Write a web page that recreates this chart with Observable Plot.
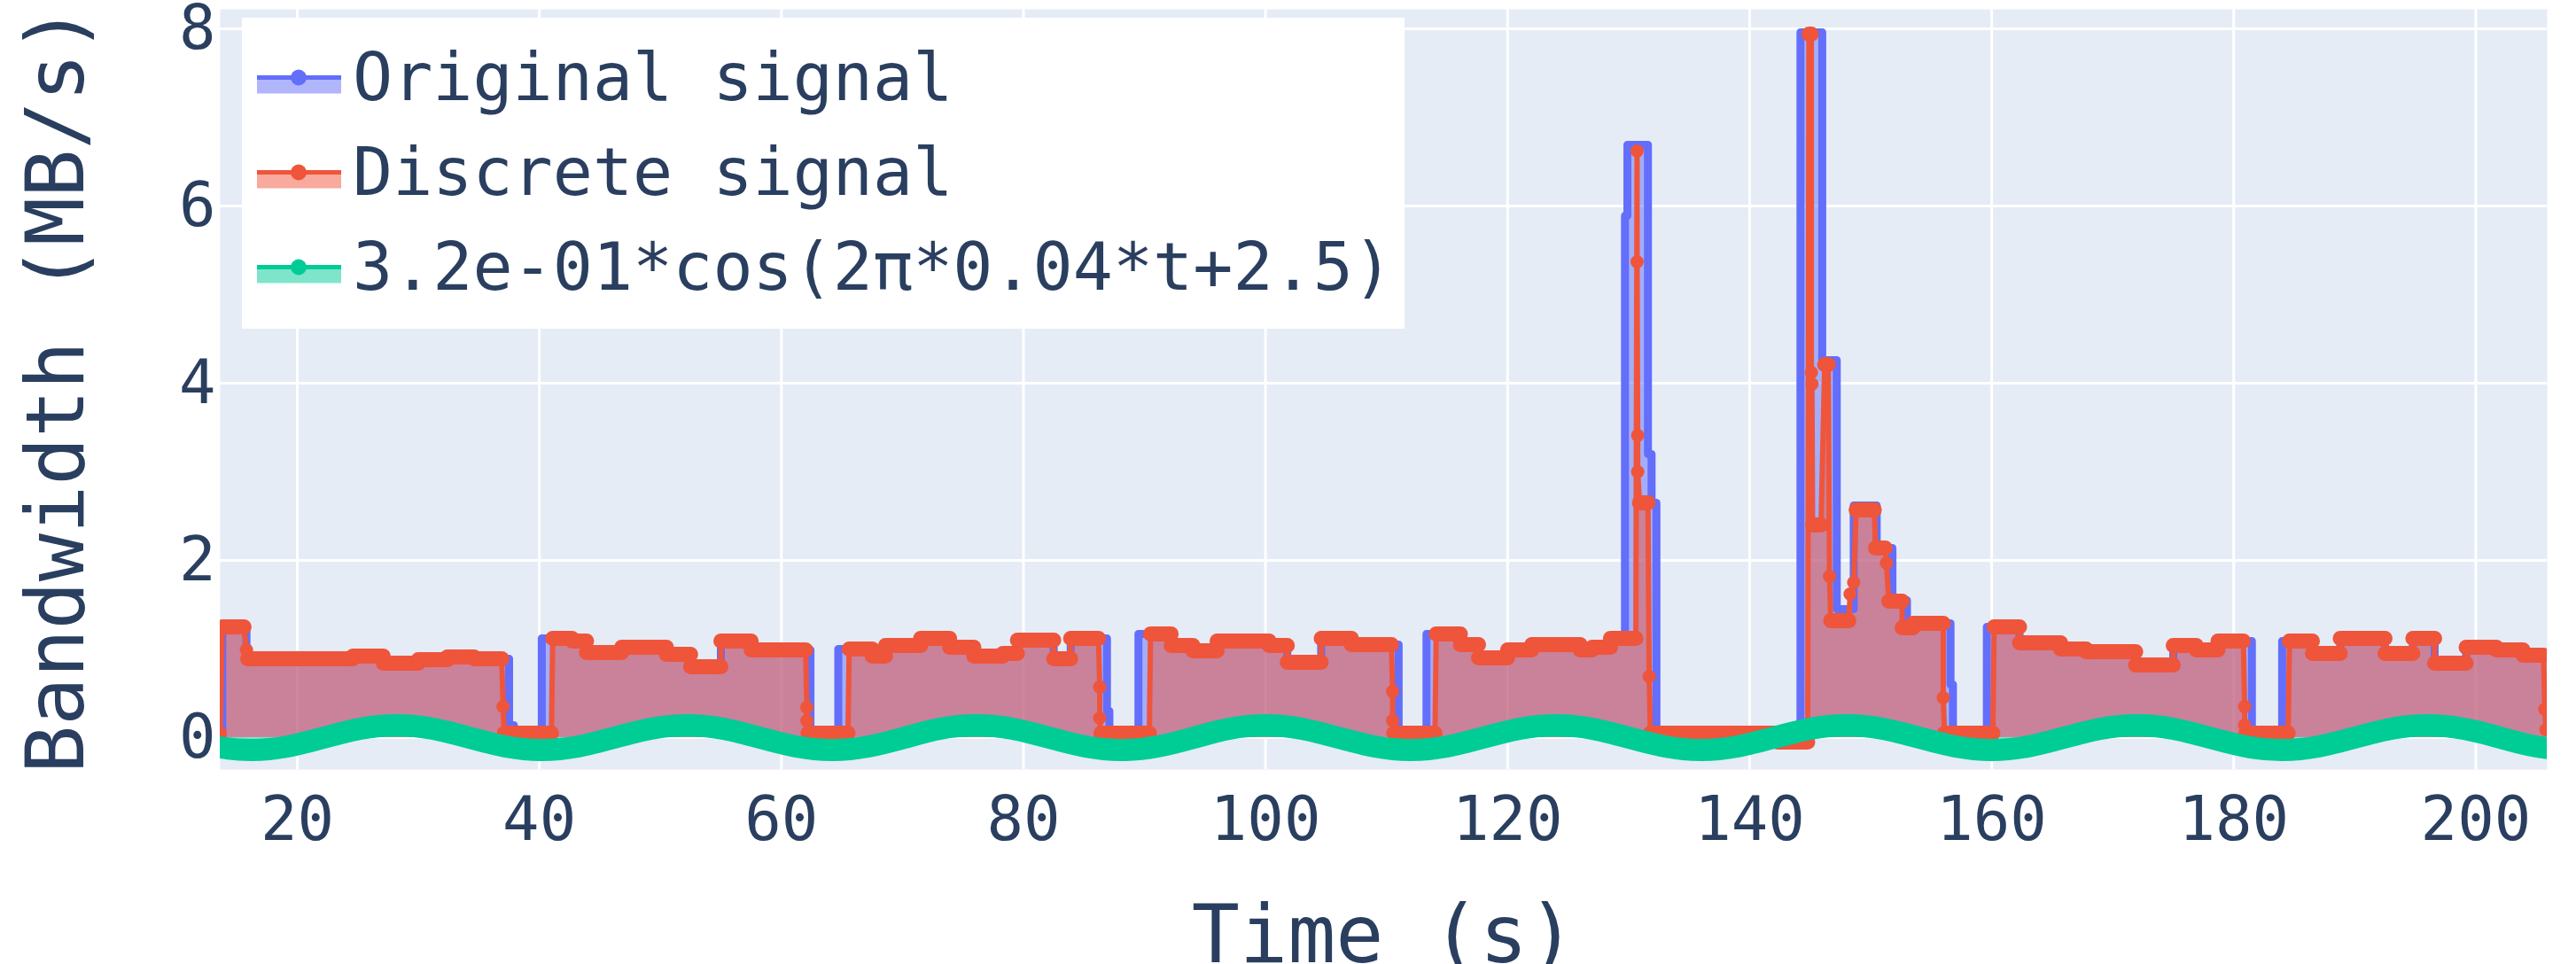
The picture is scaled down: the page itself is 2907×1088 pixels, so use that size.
<!DOCTYPE html>
<html><head><meta charset="utf-8">
<script src="https://cdn.jsdelivr.net/npm/d3@7"></script>
<script src="https://cdn.jsdelivr.net/npm/@observablehq/plot@0.6"></script>
<style>
body{margin:0;background:#fff;}
#wrap{position:relative;width:2907px;height:1088px;font-family:"DejaVu Sans Mono",monospace;color:#2a3f5f;}
#legend{position:absolute;left:273px;top:20px;width:1312px;height:351px;background:#fff;box-sizing:border-box;padding:14px 0 0 17px;}
.row{display:flex;align-items:center;height:107px;}
.row span{font-size:75px;margin-left:13px;white-space:nowrap;line-height:1;}
.row svg{display:block;}
</style></head><body><div id="wrap"></div>
<script>
// ---- data ----
const origT = [13.63,13.8,15.8,24.6,27.1,30.0,32.4,34.6,37.5,37.9,40.2,42.7,43.9,46.8,50.5,52.5,55.0,57.5,62.4,64.7,67.5,68.6,71.5,73.9,75.9,78.3,79.5,82.5,83.9,86.9,87.1,89.5,92.2,94.0,96.0,100.3,101.8,104.6,107.1,111.0,113.3,116.1,117.6,120.0,122.0,126.0,127.0,128.5,129.7,129.9,131.6,131.9,132.3,144.2,146.0,147.2,148.6,150.5,151.8,153.0,156.6,156.8,159.6,162.3,165.7,167.8,171.9,175.0,176.9,178.7,181.5,184.0,186.5,188.8,192.5,194.8,196.6,199.2,201.7,203.9,205.95];
const origV = [0,1.25,0.89,0.92,0.84,0.88,0.91,0.89,0.14,0,1.12,1.09,0.96,1.02,0.94,0.80,1.09,0.99,0,1.00,0.92,1.04,1.12,1.02,0.92,0.95,1.10,0.89,1.12,0.30,0,1.17,1.04,0.98,1.09,1.04,0.85,1.12,1.05,0,1.17,1.05,0.90,0.99,1.05,0.99,1.02,1.12,5.89,6.69,3.20,2.65,0,7.96,4.26,1.45,2.62,2.14,1.55,1.29,0.60,0,1.25,1.07,1.00,0.97,0.82,1.04,0.99,1.09,0,1.09,0.95,1.12,0.95,1.12,0.84,1.02,0.99,0.93,0.93];

const discT = [13.63,13.8,15.6,15.8,15.9,24.6,24.6,27.1,27.1,30.0,30.0,32.4,32.4,34.6,34.6,36.9,37.0,37.1,41.0,41.1,42.7,42.7,43.9,43.9,46.8,46.8,50.5,50.5,52.5,52.5,55.0,55.0,57.5,57.5,62.0,62.1,62.1,62.2,65.5,65.6,67.5,67.5,68.6,68.6,71.5,71.5,73.9,73.9,75.9,75.9,78.3,78.3,79.5,79.5,82.5,82.5,83.9,83.9,86.2,86.3,86.3,86.4,90.4,90.5,92.2,92.2,94.0,94.0,96.0,96.0,100.3,100.3,101.8,101.8,104.6,104.6,107.1,107.1,110.4,110.5,110.5,110.6,114.0,114.1,116.1,116.1,117.6,117.6,120.0,120.0,122.0,122.0,126.0,126.0,127.0,127.0,128.5,128.5,130.6,130.7,130.7,130.75,130.75,130.9,131.6,131.7,131.8,142.2,142.3,144.8,144.9,145.1,145.1,145.15,145.2,145.9,146.2,146.5,146.6,146.7,148.2,148.3,148.6,148.8,150.3,150.4,151.2,151.3,151.5,152.6,152.6,153.5,153.5,156.0,156.0,156.1,160.1,160.2,162.3,162.3,165.7,165.7,167.8,167.8,171.9,171.9,175.0,175.0,176.9,176.9,178.7,178.7,180.8,180.9,180.9,181.0,184.5,184.6,186.5,186.5,188.8,188.8,192.5,192.5,194.8,194.8,196.6,196.6,199.2,199.2,201.7,201.7,203.9,203.9,205.6,205.7,205.8];
const discV = [0.05,1.25,1.25,0.99,0.89,0.89,0.92,0.92,0.84,0.84,0.88,0.88,0.91,0.91,0.89,0.89,0.35,0.05,0.05,1.12,1.12,1.09,1.09,0.96,0.96,1.02,1.02,0.94,0.94,0.80,0.80,1.09,1.09,0.99,0.99,0.34,0.19,0.05,0.05,1.00,1.00,0.92,0.92,1.04,1.04,1.12,1.12,1.02,1.02,0.92,0.92,0.95,0.95,1.10,1.10,0.89,0.89,1.12,1.12,0.57,0.22,0.05,0.05,1.17,1.17,1.04,1.04,0.98,0.98,1.09,1.09,1.04,1.04,0.85,0.85,1.12,1.12,1.05,1.05,0.52,0.19,0.05,0.05,1.17,1.17,1.05,1.05,0.90,0.90,0.99,0.99,1.05,1.05,0.99,0.99,1.02,1.02,1.12,1.12,6.62,5.37,3.41,3.00,2.65,2.65,0.69,0.05,0.05,-0.05,-0.05,7.94,7.94,4.12,3.99,2.40,2.40,4.21,4.21,1.82,1.32,1.32,1.62,1.75,2.57,2.57,2.14,2.14,1.97,1.54,1.54,1.24,1.24,1.29,1.29,0.45,0.05,0.05,1.25,1.25,1.07,1.07,1.00,1.00,0.97,0.97,0.82,0.82,1.04,1.04,0.99,0.99,1.09,1.09,0.35,0.14,0.05,0.05,1.09,1.09,0.95,0.95,1.12,1.12,0.95,0.95,1.12,1.12,0.84,0.84,1.02,1.02,0.99,0.99,0.93,0.93,0.32,0.09];

const cosT = [10.2,13.2,16.2,19.2,22.2,25.2,28.2,31.2,34.2,37.2,40.2,43.2,46.2,49.2,52.2,55.2,58.2,61.2,64.2,67.2,70.2,73.1,76.1,79.1,82.1,85.1,88.1,91.1,94.1,97.0,100.0,103.0,106.0,109.0,112.0,115.0,118.0,121.0,124.0,127.0,130.0,133.0,136.0,139.0,142.0,145.0,148.0,151.0,154.0,157.0,160.0,163.0,166.0,169.0,172.0,175.0,178.0,181.0,184.0,187.0,190.0,193.0,196.0,199.0,202.0,205.0,208.0];
const cosV = [0,-0.10,-0.14,-0.10,0,0.10,0.14,0.10,0,-0.10,-0.14,-0.10,0,0.10,0.14,0.10,0,-0.10,-0.14,-0.10,0,0.10,0.14,0.10,0,-0.10,-0.14,-0.10,0,0.10,0.14,0.10,0,-0.10,-0.14,-0.10,0,0.10,0.14,0.10,0,-0.10,-0.14,-0.10,0,0.10,0.14,0.10,0,-0.10,-0.14,-0.10,0,0.10,0.14,0.10,0,-0.10,-0.14,-0.10,0,0.10,0.14,0.10,0,-0.10,-0.14];

const xTicks = [20,40,60,80,100,120,140,160,180,200];
const yTicks = [0,2,4,6,8];
const seriesNames = ["Original signal","Discrete signal","3.2e-01*cos(2π*0.04*t+2.5)"];
const seriesColors = ["#636efa","#EF553B","#00cc96"];
const xTitle = "Time (s)";
const yTitle = "Bandwidth (MB/s)";

// ---- tables ----
const orig = origT.map((t,i)=>({t, v: origV[i]}));
const disc = discT.map((t,i)=>({t, v: discV[i]}));
const wave = cosT.map((t,i)=>({t, v: cosV[i]}));
const plateaus = [];
for (let i = 0; i < disc.length - 1; i++) {
  if (disc[i].v === disc[i+1].v) plateaus.push({t0: disc[i].t, t1: disc[i+1].t, v: disc[i].v});
}
const [cBlue, cRed, cGreen] = seriesColors;
const txt = "#2a3f5f";

const chart = Plot.plot({
  width: 2907, height: 1088,
  marginLeft: 248, marginRight: 33, marginTop: 10, marginBottom: 220,
  style: {fontFamily: '"DejaVu Sans Mono", monospace', fontSize: "69px", color: txt, background: "#fff"},
  x: {domain: [13.63, 205.9]},
  y: {domain: [-0.36, 8.22]},
  marks: [
    Plot.frame({fill: "#E5ECF6", stroke: null}),
    Plot.gridX(xTicks, {stroke: "#fff", strokeOpacity: 1, strokeWidth: 3}),
    Plot.gridY(yTicks, {stroke: "#fff", strokeOpacity: 1, strokeWidth: 3}),
    Plot.areaY(orig, {x: "t", y1: 0, y2: "v", curve: "step-after", fill: cBlue, fillOpacity: 0.5, clip: true}),
    Plot.areaY(disc, {x: "t", y1: 0, y2: "v", fill: cRed, fillOpacity: 0.5, clip: true}),
    Plot.areaY(wave, {x: "t", y1: 0, y2: "v", curve: "natural", fill: cGreen, fillOpacity: 0.5, clip: true}),
    Plot.line(orig, {x: "t", y: "v", curve: "step-after", stroke: cBlue, strokeWidth: 9, clip: true}),
    Plot.line(disc, {x: "t", y: "v", stroke: cRed, strokeWidth: 6, clip: true}),
    Plot.link(plateaus, {x1: "t0", x2: "t1", y1: "v", y2: "v", stroke: cRed, strokeWidth: 17, strokeLinecap: "round", clip: true}),
    Plot.dot(disc, {x: "t", y: "v", r: 7.5, fill: cRed, clip: true}),
    Plot.line(wave, {x: "t", y: "v", curve: "natural", stroke: cGreen, strokeWidth: 25, clip: true}),
    Plot.axisX({ticks: xTicks, tickSize: 0, tickPadding: 30, label: null, fill: txt}),
    Plot.axisY({ticks: yTicks, tickSize: 0, tickPadding: 5, label: null, fill: txt}),
    Plot.text([xTitle], {text: d => d, frameAnchor: "bottom", dy: 217, fontSize: 90, fill: txt}),
    Plot.text([yTitle], {text: d => d, frameAnchor: "left", textAnchor: "middle", rotate: -90, dx: -183, fontSize: 90, fill: txt})
  ]
});
const wrap = document.getElementById("wrap");
wrap.appendChild(chart);

// ---- legend overlay ----
const legend = document.createElement("div");
legend.id = "legend";
seriesNames.forEach((name, i) => {
  const row = document.createElement("div");
  row.className = "row";
  const ns = "http://www.w3.org/2000/svg";
  const sw = document.createElementNS(ns, "svg");
  sw.setAttribute("width", 95); sw.setAttribute("height", 107);
  const rect = document.createElementNS(ns, "rect");
  rect.setAttribute("x", 0); rect.setAttribute("y", 53.5); rect.setAttribute("width", 95); rect.setAttribute("height", 18);
  rect.setAttribute("fill", seriesColors[i]); rect.setAttribute("fill-opacity", 0.5);
  const ln = document.createElementNS(ns, "line");
  ln.setAttribute("x1", 0); ln.setAttribute("x2", 95); ln.setAttribute("y1", 53.5); ln.setAttribute("y2", 53.5);
  ln.setAttribute("stroke", seriesColors[i]); ln.setAttribute("stroke-width", 5);
  const c = document.createElementNS(ns, "circle");
  c.setAttribute("cx", 47); c.setAttribute("cy", 53.5); c.setAttribute("r", 9); c.setAttribute("fill", seriesColors[i]);
  sw.append(rect, ln, c);
  const s = document.createElement("span");
  s.textContent = name;
  row.append(sw, s);
  legend.appendChild(row);
});
wrap.appendChild(legend);
</script></body></html>
